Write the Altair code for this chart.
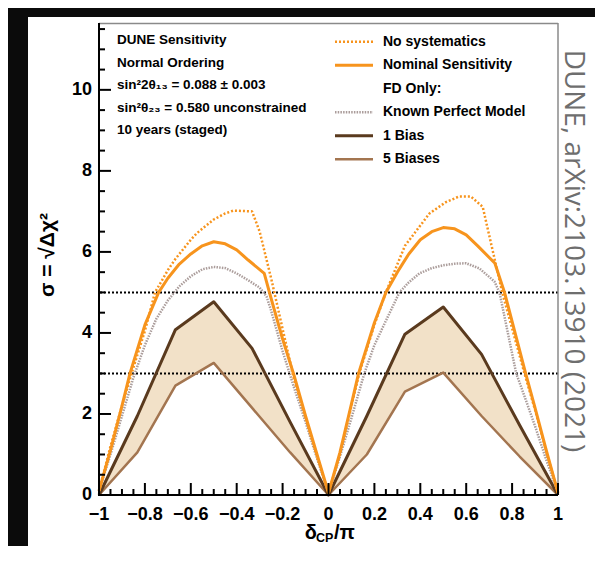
import altair as alt
import pandas as pd

# ---------------- data ----------------
ns_x = [-1, -0.95, -0.9, -0.858, -0.8, -0.756, -0.7, -0.668, -0.6, -0.574, -0.5, -0.45, -0.414, -0.333,
        -0.3, -0.25, -0.2, -0.15, -0.1, -0.05, 0,
        0.05, 0.1, 0.134, 0.2, 0.25, 0.333, 0.44, 0.512, 0.57, 0.62, 0.672, 0.73, 0.757, 0.854, 0.9, 0.95, 1]
ns_y = [0.1, 1.2, 2.2, 3.0, 4.05, 5.0, 5.55, 5.82, 6.3, 6.46, 6.8, 6.95, 7.02, 7.0,
        6.5, 5.35, 4.1, 2.85, 1.9, 0.95, 0.05,
        1.0, 2.2, 3.0, 4.2, 5.0, 6.15, 6.95, 7.23, 7.37, 7.37, 7.11, 5.67, 5.0, 3.0, 2.1, 1.05, 0.05]

nom_x = [-1, -0.95, -0.9, -0.865, -0.8, -0.74, -0.7, -0.65, -0.6, -0.55, -0.5, -0.45, -0.4, -0.35,
         -0.28, -0.25, -0.2, -0.15, -0.1, -0.05, 0,
         0.05, 0.1, 0.131, 0.2, 0.25, 0.3, 0.35, 0.4, 0.45, 0.5, 0.55, 0.6, 0.65, 0.725, 0.767, 0.859, 0.9, 0.95, 1]
nom_y = [0.1, 1.1, 2.2, 3.0, 4.2, 5.0, 5.35, 5.7, 5.95, 6.15, 6.25, 6.2, 6.05, 5.8,
         5.47, 4.85, 3.85, 2.95, 1.95, 1.0, 0.05,
         1.05, 2.25, 3.0, 4.25, 5.0, 5.5, 5.95, 6.3, 6.5, 6.6, 6.57, 6.42, 6.15, 5.72, 5.0, 3.0, 2.15, 1.08, 0.05]

kpm_x = [-1, -0.95, -0.9, -0.85, -0.8, -0.75, -0.7, -0.65, -0.6, -0.55, -0.5, -0.45, -0.4, -0.35, -0.3,
         -0.27, -0.25, -0.2, -0.15, -0.1, -0.05, 0,
         0.05, 0.1, 0.156, 0.2, 0.25, 0.309, 0.35, 0.396, 0.45, 0.5, 0.55, 0.6, 0.658, 0.723, 0.745,
         0.818, 0.85, 0.9, 0.95, 1]
kpm_y = [0.1, 1.0, 1.95, 2.9, 3.7, 4.35, 4.8, 5.15, 5.4, 5.57, 5.63, 5.6, 5.47, 5.3, 5.12,
         4.9, 4.55, 3.55, 2.65, 1.8, 0.9, 0.05,
         0.95, 1.9, 3.0, 3.7, 4.3, 5.0, 5.25, 5.47, 5.6, 5.67, 5.71, 5.72, 5.59, 5.27, 5.0,
         3.0, 2.5, 1.7, 0.85, 0.05]

bias_x = [-1, -0.833, -0.667, -0.5, -0.333, -0.167, 0, 0.167, 0.333, 0.5, 0.667, 0.833, 1]
bias1_y = [0, 1.95, 4.08, 4.77, 3.62, 1.8, 0, 1.95, 3.97, 4.64, 3.47, 1.72, 0]
bias5_y = [0, 1.05, 2.7, 3.26, 2.15, 1.05, 0, 1.0, 2.55, 3.02, 1.95, 0.95, 0]

sigma_levels = [3, 5]

x_labels = [-1, -0.8, -0.6, -0.4, -0.2, 0, 0.2, 0.4, 0.6, 0.8, 1]
x_minor = [round(-1 + 0.05 * i, 2) for i in range(41)]
y_labels = [0, 2, 4, 6, 8, 10]
y_minor = [0.5 * i for i in range(24)]

info_lines = ["DUNE Sensitivity", "Normal Ordering", "sin²2θ₁₃ = 0.088 ± 0.003",
              "sin²θ₂₃ = 0.580 unconstrained", "10 years (staged)"]
legend_labels = ["No systematics", "Nominal Sensitivity", "FD Only:",
                 "Known Perfect Model", "1 Bias", "5 Biases"]

# ---------------- styling ----------------
W, H = 459, 472
YMAX = 11.65
FONT = "Liberation Sans"
ORANGE = "#f7941d"
GRAY = "#ab9d9b"
DARK = "#5a3a1e"
MID = "#a37550"
FILL = "#f2e1c8"
BLACK = "#0b0b0b"

xsc = alt.Scale(domain=[-1, 1], nice=False, zero=False)
ysc = alt.Scale(domain=[0, YMAX], nice=False, zero=False)

one = pd.DataFrame({"k": [0]})


def rect(x, x2, y, y2, color):
    return alt.Chart(one).mark_rect(color=color).encode(
        x=alt.value(x), x2=alt.value(x2), y=alt.value(y), y2=alt.value(y2))


def seg(x, x2, y, y2, color, width, dash=None):
    kw = dict(color=color, strokeWidth=width, strokeCap="butt")
    if dash:
        kw["strokeDash"] = dash
    return alt.Chart(one).mark_rule(**kw).encode(
        x=alt.value(x), x2=alt.value(x2), y=alt.value(y), y2=alt.value(y2))


def txt(s, x, y, size, align="left", baseline="middle", angle=0, font=FONT,
        weight="bold", color="black"):
    return alt.Chart(one).mark_text(text=s, font=font, fontSize=size, fontWeight=weight,
                                    align=align, baseline=baseline, angle=angle,
                                    color=color).encode(x=alt.value(x), y=alt.value(y))


def curve(xv, yv, color, width, dash=None):
    kw = dict(color=color, strokeWidth=width, strokeCap="butt", strokeJoin="round")
    if dash:
        kw["strokeDash"] = dash
    d = pd.DataFrame({"x": xv, "y": yv, "o": range(len(xv))})
    return alt.Chart(d).mark_line(**kw).encode(
        x=alt.X("x:Q", scale=xsc, axis=None),
        y=alt.Y("y:Q", scale=ysc, axis=None),
        order="o:Q")


def fmt(v):
    return f"{v:g}".replace("-", "\u2212")


layers = []
# photo frame decoration: svg background is black; white panel inside
layers.append(rect(-71, W + 200, -6, H + 200, "white"))

# band between 1 Bias and 5 Biases
bias_df = pd.DataFrame({"x": bias_x, "b1": bias1_y, "b5": bias5_y})
layers.append(alt.Chart(bias_df).mark_area(color=FILL, opacity=1).encode(
    x=alt.X("x:Q", scale=xsc, axis=None),
    y=alt.Y("b1:Q", scale=ysc, axis=None),
    y2="b5:Q"))

# 3 sigma / 5 sigma dotted lines
layers.append(alt.Chart(pd.DataFrame({"v": sigma_levels})).mark_rule(
    color="black", strokeWidth=2, strokeDash=[2, 2]).encode(
    y=alt.Y("v:Q", scale=ysc, axis=None)))

layers.append(curve(bias_x, bias5_y, MID, 2.5))
layers.append(curve(bias_x, bias1_y, DARK, 3))
layers.append(curve(kpm_x, kpm_y, GRAY, 2.5, [1.5, 1.2]))
layers.append(curve(nom_x, nom_y, ORANGE, 3))
layers.append(curve(ns_x, ns_y, ORANGE, 2.5, [2, 2]))

# frame top/right (grey) and axis lines left/bottom (black)
layers.append(seg(0, W, 0.5, 0.5, "#8a8a8a", 1.5))
layers.append(seg(W, W, 0, H, "#8a8a8a", 1.5))
layers.append(seg(0, 0, 0, H + 1, "black", 2))
layers.append(seg(-1, W, H, H, "black", 2))

# inward ticks
ymaj = pd.DataFrame({"v": y_labels, "t": [fmt(v) for v in y_labels]})
ymin = pd.DataFrame({"v": [v for v in y_minor if v not in y_labels]})
layers.append(alt.Chart(ymaj).mark_rule(color="black", strokeWidth=2).encode(
    y=alt.Y("v:Q", scale=ysc, axis=None), x=alt.value(0), x2=alt.value(12)))
layers.append(alt.Chart(ymin).mark_rule(color="black", strokeWidth=2).encode(
    y=alt.Y("v:Q", scale=ysc, axis=None), x=alt.value(0), x2=alt.value(6)))
xmaj = pd.DataFrame({"v": x_labels, "t": [fmt(v) for v in x_labels]})
xmin = pd.DataFrame({"v": [v for v in x_minor if v not in x_labels]})
layers.append(alt.Chart(xmaj).mark_rule(color="black", strokeWidth=2).encode(
    x=alt.X("v:Q", scale=xsc, axis=None), y=alt.value(H), y2=alt.value(H - 12)))
layers.append(alt.Chart(xmin).mark_rule(color="black", strokeWidth=2).encode(
    x=alt.X("v:Q", scale=xsc, axis=None), y=alt.value(H), y2=alt.value(H - 6)))

# tick labels
layers.append(alt.Chart(ymaj).mark_text(font=FONT, fontSize=18, fontWeight="bold",
                                        align="right", baseline="middle", color="black").encode(
    y=alt.Y("v:Q", scale=ysc, axis=None), x=alt.value(-7), text="t:N"))
layers.append(alt.Chart(xmaj).mark_text(font=FONT, fontSize=18, fontWeight="bold",
                                        align="center", baseline="top", color="black").encode(
    x=alt.X("v:Q", scale=xsc, axis=None), y=alt.value(H + 11), text="t:N"))

# info text
for i, s in enumerate(info_lines):
    layers.append(txt(s, 18, 17 + 22.5 * i, 13.5))

# legend
leg_style = [(ORANGE, 2.5, [2, 2]), (ORANGE, 3, None), None,
             (GRAY, 2.5, [1.5, 1.2]), (DARK, 3, None), (MID, 2.5, None)]
for i, (lab, st) in enumerate(zip(legend_labels, leg_style)):
    yy = 18.7 + 23.5 * i
    if st:
        layers.append(seg(236, 274, yy, yy, st[0], st[1], st[2]))
    layers.append(txt(lab, 284, yy, 14))

# axis titles
layers.append(txt("σ = √Δχ²", -51, 232, 21, align="center", angle=270))
layers.append(txt("δ", 218, 516, 20, align="right", baseline="alphabetic"))
layers.append(txt("CP", 217, 519, 12.5, align="left", baseline="alphabetic"))
layers.append(txt("/π", 235, 516, 20, align="left", baseline="alphabetic"))

# vertical citation
layers.append(txt("DUNE, arXiv:2103.13910 (2021)", 474, 228, 28, align="center",
                  angle=90, font="Open Sans", weight="normal", color="#6e6e6e"))

chart = alt.layer(*layers).properties(
    width=W, height=H,
    padding={"left": 91, "top": 15, "right": 37, "bottom": 51},
    autosize=alt.AutoSizeParams(type="none"),
    background=BLACK,
).configure_view(stroke=None)

chart.save("out.html", embed_options={"renderer": "svg", "actions": False})
